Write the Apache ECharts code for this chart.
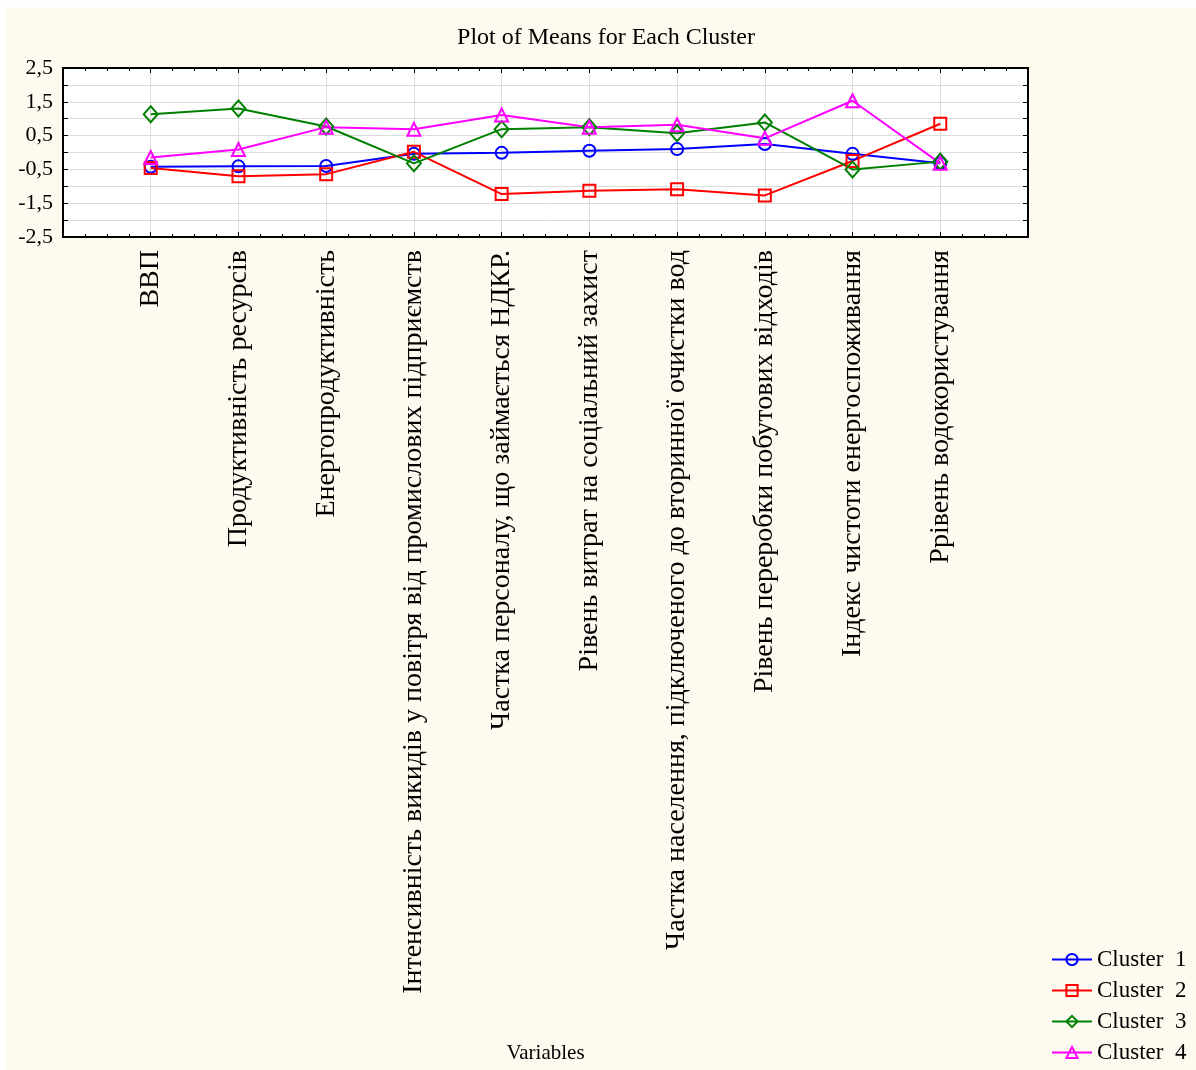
<!DOCTYPE html>
<html>
<head>
<meta charset="utf-8">
<script src="https://cdn.jsdelivr.net/npm/echarts@6/dist/echarts.min.js"></script>
<style>
  html, body { margin: 0; padding: 0; background: #ffffff; }
  #chart { position: absolute; left: 6px; top: 7px; width: 1190px; height: 1063px; background: #fefaef; }
</style>
</head>
<body>
<div id="chart"></div>
<script>
// Variables (x axis) in plotting order
const categories = [
  'ВВП',
  'Продуктивність ресурсів',
  'Енергопродуктивність',
  'Інтенсивність викидів у повітря від промислових підприємств',
  'Частка персоналу, що займається НДКР.',
  'Рівень витрат на соціальний захист',
  'Частка населення, підключеного до вторинної очистки вод',
  'Рівень переробки побутових відходів',
  'Індекс чистоти енергоспоживання',
  'Ррівень водокористування'
];

// Cluster means (standardised values)
const cluster1 = [-0.42, -0.41, -0.40, -0.04, -0.01, 0.05, 0.10, 0.25, -0.04, -0.32];
const cluster2 = [-0.46, -0.70, -0.64, 0.02, -1.23, -1.13, -1.09, -1.27, -0.25, 0.85];
const cluster3 = [1.13, 1.30, 0.77, -0.32, 0.69, 0.75, 0.57, 0.89, -0.50, -0.27];
const cluster4 = [-0.15, 0.09, 0.75, 0.69, 1.11, 0.75, 0.82, 0.42, 1.53, -0.32];

const seriesNames = ['Cluster  1', 'Cluster  2', 'Cluster  3', 'Cluster  4'];
const yTickLabels = ['2,5', '1,5', '0,5', '-0,5', '-1,5', '-2,5'];

const FONT = "'Liberation Serif', 'Times New Roman', serif";
const colors = ['#0000ff', '#ff0000', '#008000', '#ff00ff'];
const symbols = ['circle', 'rect', 'diamond', 'triangle'];
const sizes = [12, 12, [14, 16], 13];

function fmtY(v) {
  const s = v.toFixed(1).replace('.', ',');
  return yTickLabels.indexOf(s) >= 0 ? s : '';
}

const chart = echarts.init(document.getElementById('chart'), null, { renderer: 'canvas' });

const values = [cluster1, cluster2, cluster3, cluster4];
const series = values.map((arr, i) => ({
  name: seriesNames[i],
  type: 'line',
  xAxisIndex: 0,
  yAxisIndex: 0,
  data: arr.map((v, k) => [k + 1, v]),
  symbol: symbols[i],
  symbolSize: sizes[i],
  showAllSymbol: true,
  lineStyle: { color: colors[i], width: 2 },
  itemStyle: { color: 'rgba(255,255,255,0)', borderColor: colors[i], borderWidth: 2 },
  emphasis: { disabled: true },
  animation: false
}));

const gridLine = { show: true, lineStyle: { color: '#dcdcdc', width: 1 } };
const frame = { show: true, onZero: false, lineStyle: { color: '#000', width: 2 } };

chart.setOption({
  animation: false,
  graphic: [{
    type: 'text',
    x: 600, y: 31,
    style: { text: 'Plot of Means for Each Cluster', font: '24px ' + FONT, fill: '#000',
             textAlign: 'center', textVerticalAlign: 'middle' }
  }],
  grid: {
    left: 57, top: 61, width: 965, height: 169,
    outerBoundsMode: 'none',
    containLabel: false,
    show: true, backgroundColor: '#ffffff', borderColor: '#000', borderWidth: 2
  },
  legend: {
    orient: 'vertical',
    left: 1040, top: 936,
    itemWidth: 40, itemHeight: 14, itemGap: 8,
    textStyle: { fontFamily: FONT, fontSize: 23, color: '#000' },
    data: seriesNames
  },
  xAxis: [{
    type: 'value', min: 0, max: 11, interval: 1,
    position: 'bottom',
    name: 'Variables', nameLocation: 'middle', nameGap: 806,
    nameTextStyle: { fontFamily: FONT, fontSize: 21, color: '#000' },
    axisLine: frame,
    axisTick: { show: true, inside: true, length: 5, lineStyle: { color: '#000' } },
    minorTick: { show: true, splitNumber: 4, length: 3, lineStyle: { color: '#000' } },
    splitLine: gridLine,
    axisLabel: {
      rotate: 90, margin: 13, interval: 0,
      fontFamily: FONT, fontSize: 28, color: '#000',
      formatter: v => categories[v - 1] || ''
    }
  }, {
    type: 'value', min: 0, max: 11, interval: 1,
    position: 'top',
    axisLine: frame,
    axisTick: { show: true, inside: true, length: 5, lineStyle: { color: '#000' } },
    minorTick: { show: true, splitNumber: 4, length: 3, lineStyle: { color: '#000' } },
    splitLine: { show: false },
    axisLabel: { show: false }
  }],
  yAxis: [{
    type: 'value', min: -2.5, max: 2.5, interval: 0.5,
    position: 'left',
    axisLine: frame,
    axisTick: { show: true, inside: true, length: 5, lineStyle: { color: '#000' } },
    splitLine: gridLine,
    axisLabel: { margin: 10, fontFamily: FONT, fontSize: 22, color: '#000', formatter: fmtY }
  }, {
    type: 'value', min: -2.5, max: 2.5, interval: 0.5,
    position: 'right',
    axisLine: frame,
    axisTick: { show: true, inside: true, length: 5, lineStyle: { color: '#000' } },
    splitLine: { show: false },
    axisLabel: { show: false }
  }],
  series: series
});
</script>
</body>
</html>
